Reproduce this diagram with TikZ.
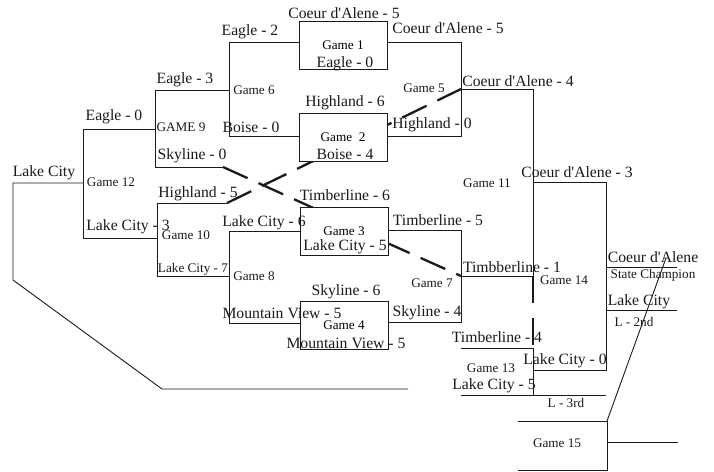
\documentclass[tikz,border=0pt]{standalone}
\usepackage{fontspec}
\setmainfont{Liberation Serif}[Ligatures=TeXOff]
\usepackage{tikz}
\usepackage{xcolor}
\definecolor{inkc}{HTML}{1A1A1A}
\newcommand\teamsize{\fontsize{15.7}{18}\selectfont}
\newcommand\gamesize{\fontsize{13.2}{15}\selectfont}
\tikzset{
  bracket/.style={draw=inkc, line width=0.9pt, line join=miter},
  crossing/.style={draw=inkc, line width=2.3pt, dash pattern=on 27pt off 12pt},
  gamebox/.style={draw=inkc, fill=white, line width=0.9pt, minimum width=88pt, minimum height=48pt, inner sep=0pt, font=\gamesize},
  team/.style={inner sep=0pt, font=\teamsize, text=inkc},
  gamelbl/.style={inner sep=0pt, font=\gamesize, text=inkc},
}

\begin{document}
\begin{tikzpicture}[x=1pt,y=-1pt]
\useasboundingbox (0,0) rectangle (714,471);
\coordinate (c6t) at (229,42);
\coordinate (c6b) at (229,136);
\coordinate (c5t) at (461,42);
\coordinate (c5b) at (461,136);
\coordinate (c9t) at (155,90);
\coordinate (c9b) at (155,167);
\coordinate (c12t) at (83,129);
\coordinate (c12b) at (83,238);
\coordinate (c10t) at (157,203);
\coordinate (c10b) at (157,276);
\coordinate (c8t) at (229,231);
\coordinate (c8b) at (229,323);
\coordinate (c7t) at (461,230);
\coordinate (c7b) at (461,322);
\coordinate (c11t) at (533,89);
\coordinate (c11b) at (533,276);
\coordinate (c13t) at (533,348);
\coordinate (c13b) at (533,395);
\coordinate (c14t) at (606,182);
\coordinate (c14b) at (606,370);
\coordinate (c15t) at (607,421);
\coordinate (c15b) at (607,470);
\coordinate (skyend) at (223,167);
\coordinate (highend) at (227,203);
\coordinate (skyin) at (320,211);
\coordinate (lcout) at (385,242);
\coordinate (tim4end) at (461,348);
\coordinate (lc5end) at (461,395);
\coordinate (thirdend) at (606,395);
\coordinate (champend) at (677,267);
\coordinate (secondend) at (677,310);
\coordinate (g15top) at (518,421);
\coordinate (g15bot) at (518,470);
\coordinate (g15end) at (678,442);
\coordinate (slashtop) at (666,258);
\coordinate (lcleft) at (13,183);
\coordinate (lcbend) at (13,280);
\coordinate (lcfoot) at (162,389);
\coordinate (lcend) at (408,389);

\draw[crossing] (skyend) -- (skyin);
\draw[crossing] (highend) -- (c5t |- c11t);
\draw[crossing] (lcout) -- (c7t |- c11b);
\draw[crossing, dash pattern=on 27pt off 15pt] (c11b) -- (c13t);

\node[gamebox] (g1) at (343,45) {Game 1};
\node[gamebox] (g2) at (343,137.5) {Game\ \ 2};
\node[gamebox] (g3) at (344,231) {Game 3};
\node[gamebox] (g4) at (344,325) {Game 4};

\draw[bracket] (g1.west |- c6t) -- (c6t) -- (c6b) -- (g2.west |- c6b);
\draw[bracket] (g1.east |- c5t) -- (c5t) -- (c5b) -- (g2.east |- c5b);
\draw[bracket] (g3.west |- c8t) -- (c8t) -- (c8b) -- (g4.west |- c8b);
\draw[bracket] (g3.east |- c7t) -- (c7t) -- (c7b) -- (g4.east |- c7b);
\draw[bracket] (c6t |- c9t) -- (c9t) -- (c9b) -- (skyend);
\draw[bracket] (highend) -- (c10t) -- (c10b) -- (c8t |- c10b);
\draw[bracket] (c9t |- c12t) -- (c12t) -- (c12b) -- (c10t |- c12b);
\draw[bracket] (c5t |- c11t) -- (c11t) -- (c11b) -- (c7t |- c11b);
\draw[bracket] (c11t |- c14t) -- (c14t) -- (c14b) -- (c13t |- c14b);
\draw[bracket] (tim4end) -- (c13t) -- (c13b) -- (lc5end);
\draw[bracket] (c13b) -- (thirdend);
\draw[bracket] (c14t |- champend) -- (champend);
\draw[bracket] (c14t |- secondend) -- (secondend);
\draw[bracket] (g15top) -- (c15t) -- (c15b) -- (g15bot);
\draw[bracket] (c15t |- g15end) -- (g15end);
\draw[bracket] (c15t) -- (slashtop);
\draw[bracket] (c12t |- lcleft) -- (lcleft) -- (lcbend) -- (lcfoot) -- (lcend);

\node[team] (cdafivea) at (344,13) {Coeur d'Alene - 5};
\node[team] (cdafiveb) at (448,28) {Coeur d'Alene - 5};
\node[team] (eagtwo) at (250,32) {Eagle - 2};
\node[team] (eagzeroa) at (345,64) {Eagle - 0};
\node[team] (hlsix) at (345,103) {Highland - 6};
\node[team] (boizero) at (251,127) {Boise - 0};
\node[team] (boifour) at (345,154) {Boise - 4};
\node[team] (hlzero) at (432,125) {Highland - 0};
\node[team] (cdafour) at (518,81) {Coeur d'Alene - 4};
\node[team] (eagthree) at (185,80) {Eagle - 3};
\node[team] (skyzero) at (192,156) {Skyline - 0};
\node[team] (eagzerob) at (114,117) {Eagle - 0};
\node[team] (lcwin) at (44,173) {Lake City};
\node[team] (hlfive) at (198,194) {Highland - 5};
\node[team] (lcthree) at (128,227) {Lake City - 3};
\node[team] (lcsix) at (264,223) {Lake City - 6};
\node[team] (timsix) at (345,195) {Timberline - 6};
\node[team] (lcfivea) at (345,247) {Lake City - 5};
\node[team] (timfive) at (438,220) {Timberline - 5};
\node[team] (timbone) at (512,267) {Timbberline - 1};
\node[team] (skysix) at (346,292) {Skyline - 6};
\node[team] (mvfivea) at (282,313) {Mountain View - 5};
\node[team] (mvfiveb) at (346,343) {Mountain View - 5};
\node[team] (skyfour) at (427,313) {Skyline - 4};
\node[team] (cdathree) at (577,172) {Coeur d'Alene - 3};
\node[team] (cdachamp) at (653,257) {Coeur d'Alene};
\node[team] (lcsecond) at (639,302) {Lake City};
\node[team] (timfour) at (497,337) {Timberline - 4};
\node[team] (lczero) at (565,361) {Lake City - 0};
\node[team] (lcfiveb) at (494,386) {Lake City - 5};

\node[gamelbl] (gmfive) at (424,88) {Game 5};
\node[gamelbl] (gmsix) at (254,90) {Game 6};
\node[gamelbl] (gmnine) at (181,127) {GAME 9};
\node[gamelbl] (gmtwelve) at (111,182) {Game 12};
\node[gamelbl] (gmten) at (186,235) {Game 10};
\node[gamelbl] (lcseven) at (193,269) {Lake City - 7};
\node[gamelbl] (gmeight) at (254,276) {Game 8};
\node[gamelbl] (gmseven) at (432,283) {Game 7};
\node[gamelbl] (gmeleven) at (487,183) {Game 11};
\node[gamelbl] (gmfourteen) at (564,280) {Game 14};
\node[gamelbl] (sttxt) at (653,275) {State Champion};
\node[gamelbl] (ltwo) at (634,322) {L - 2nd};
\node[gamelbl] (gmthirteen) at (491,368) {Game 13};
\node[gamelbl] (lthree) at (566,403) {L - 3rd};
\node[gamelbl] (gmfifteen) at (557,443) {Game 15};
\end{tikzpicture}
\end{document}
